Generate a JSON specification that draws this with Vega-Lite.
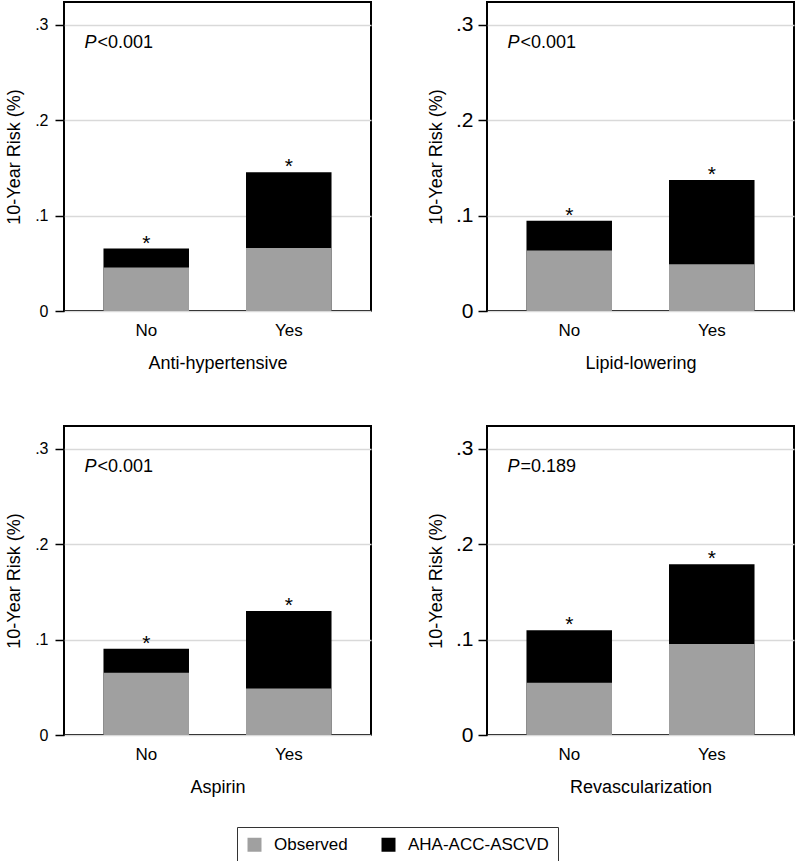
{
  "$schema": "https://vega.github.io/schema/vega-lite/v6.json",
  "padding": {"left": 4, "top": 1, "right": 0, "bottom": 0},
  "background": "white",
  "datasets": {
    "bars": [
      {"panel": "Anti-hypertensive", "group": "No", "series": "AHA-ACC-ASCVD", "value": 0.0655, "pval": "<0.001"},
      {"panel": "Anti-hypertensive", "group": "Yes", "series": "AHA-ACC-ASCVD", "value": 0.1455, "pval": "<0.001"},
      {"panel": "Anti-hypertensive", "group": "No", "series": "Observed", "value": 0.0455, "pval": "<0.001"},
      {"panel": "Anti-hypertensive", "group": "Yes", "series": "Observed", "value": 0.066, "pval": "<0.001"},
      {"panel": "Lipid-lowering", "group": "No", "series": "AHA-ACC-ASCVD", "value": 0.0946, "pval": "<0.001"},
      {"panel": "Lipid-lowering", "group": "Yes", "series": "AHA-ACC-ASCVD", "value": 0.1374, "pval": "<0.001"},
      {"panel": "Lipid-lowering", "group": "No", "series": "Observed", "value": 0.0634, "pval": "<0.001"},
      {"panel": "Lipid-lowering", "group": "Yes", "series": "Observed", "value": 0.049, "pval": "<0.001"},
      {"panel": "Aspirin", "group": "No", "series": "AHA-ACC-ASCVD", "value": 0.0905, "pval": "<0.001"},
      {"panel": "Aspirin", "group": "Yes", "series": "AHA-ACC-ASCVD", "value": 0.130, "pval": "<0.001"},
      {"panel": "Aspirin", "group": "No", "series": "Observed", "value": 0.0653, "pval": "<0.001"},
      {"panel": "Aspirin", "group": "Yes", "series": "Observed", "value": 0.0488, "pval": "<0.001"},
      {"panel": "Revascularization", "group": "No", "series": "AHA-ACC-ASCVD", "value": 0.1098, "pval": "=0.189"},
      {"panel": "Revascularization", "group": "Yes", "series": "AHA-ACC-ASCVD", "value": 0.179, "pval": "=0.189"},
      {"panel": "Revascularization", "group": "No", "series": "Observed", "value": 0.0547, "pval": "=0.189"},
      {"panel": "Revascularization", "group": "Yes", "series": "Observed", "value": 0.0955, "pval": "=0.189"}
    ]
  },
  "data": {"name": "bars"},
  "columns": 2,
  "spacing": {"column": 54, "row": 52},
  "concat": [
    {
      "width": 307, "height": 309,
      "transform": [{"filter": "datum.panel == 'Anti-hypertensive'"}],
      "encoding": {"x": {"field": "group", "type": "nominal", "title": "Anti-hypertensive", "scale": {"paddingInner": 0.4, "paddingOuter": 0.277}}},
      "layer": [
        {"mark": {"type": "bar"}, "encoding": {
          "y": {"field": "value", "type": "quantitative", "stack": null, "scale": {"domain": [0, 0.324], "nice": false},
                "axis": {"values": [0, 0.1, 0.2, 0.3], "labelFontSize": 16, "labelPadding": 7, "titlePadding": 11}, "title": "10-Year Risk (%)"},
          "color": {"field": "series", "type": "nominal", "scale": {"domain": ["Observed", "AHA-ACC-ASCVD"], "range": ["#a0a0a0", "#000000"]}, "legend": {"title": null}},
          "order": {"field": "value", "type": "quantitative", "sort": "descending"}}},
        {"transform": [{"filter": "datum.series == 'AHA-ACC-ASCVD'"}], "mark": {"type": "text", "text": "*", "fontSize": 21, "baseline": "alphabetic", "dy": 1, "font": "Liberation Sans", "color": "black"},
          "encoding": {"y": {"field": "value", "type": "quantitative"}}},
        {"transform": [{"filter": "datum.series == 'AHA-ACC-ASCVD' && datum.group == 'No'"}], "mark": {"type": "text", "text": "P", "fontStyle": "italic", "fontSize": 18, "align": "left", "baseline": "middle", "dx": -19, "font": "Liberation Sans", "color": "black"},
          "encoding": {"x": {"field": "group", "type": "nominal", "bandPosition": 0}, "y": {"datum": 0.2815, "type": "quantitative"}}},
        {"transform": [{"filter": "datum.series == 'AHA-ACC-ASCVD' && datum.group == 'No'"}], "mark": {"type": "text", "fontSize": 18, "align": "left", "baseline": "middle", "dx": -6, "font": "Liberation Sans", "color": "black"},
          "encoding": {"x": {"field": "group", "type": "nominal", "bandPosition": 0}, "y": {"datum": 0.2815, "type": "quantitative"}, "text": {"field": "pval"}}}
      ]
    },
    {
      "width": 307, "height": 309,
      "transform": [{"filter": "datum.panel == 'Lipid-lowering'"}],
      "encoding": {"x": {"field": "group", "type": "nominal", "title": "Lipid-lowering", "scale": {"paddingInner": 0.4, "paddingOuter": 0.277}}},
      "layer": [
        {"mark": {"type": "bar"}, "encoding": {
          "y": {"field": "value", "type": "quantitative", "stack": null, "scale": {"domain": [0, 0.324], "nice": false},
                "axis": {"values": [0, 0.1, 0.2, 0.3], "labelFontSize": 21, "labelPadding": 5, "titlePadding": 10}, "title": "10-Year Risk (%)"},
          "color": {"field": "series", "type": "nominal", "scale": {"domain": ["Observed", "AHA-ACC-ASCVD"], "range": ["#a0a0a0", "#000000"]}, "legend": {"title": null}},
          "order": {"field": "value", "type": "quantitative", "sort": "descending"}}},
        {"transform": [{"filter": "datum.series == 'AHA-ACC-ASCVD'"}], "mark": {"type": "text", "text": "*", "fontSize": 21, "baseline": "alphabetic", "dy": 1, "font": "Liberation Sans", "color": "black"},
          "encoding": {"y": {"field": "value", "type": "quantitative"}}},
        {"transform": [{"filter": "datum.series == 'AHA-ACC-ASCVD' && datum.group == 'No'"}], "mark": {"type": "text", "text": "P", "fontStyle": "italic", "fontSize": 18, "align": "left", "baseline": "middle", "dx": -19, "font": "Liberation Sans", "color": "black"},
          "encoding": {"x": {"field": "group", "type": "nominal", "bandPosition": 0}, "y": {"datum": 0.2815, "type": "quantitative"}}},
        {"transform": [{"filter": "datum.series == 'AHA-ACC-ASCVD' && datum.group == 'No'"}], "mark": {"type": "text", "fontSize": 18, "align": "left", "baseline": "middle", "dx": -6, "font": "Liberation Sans", "color": "black"},
          "encoding": {"x": {"field": "group", "type": "nominal", "bandPosition": 0}, "y": {"datum": 0.2815, "type": "quantitative"}, "text": {"field": "pval"}}}
      ]
    },
    {
      "width": 307, "height": 309,
      "transform": [{"filter": "datum.panel == 'Aspirin'"}],
      "encoding": {"x": {"field": "group", "type": "nominal", "title": "Aspirin", "scale": {"paddingInner": 0.4, "paddingOuter": 0.277}}},
      "layer": [
        {"mark": {"type": "bar"}, "encoding": {
          "y": {"field": "value", "type": "quantitative", "stack": null, "scale": {"domain": [0, 0.324], "nice": false},
                "axis": {"values": [0, 0.1, 0.2, 0.3], "labelFontSize": 16, "labelPadding": 7, "titlePadding": 11}, "title": "10-Year Risk (%)"},
          "color": {"field": "series", "type": "nominal", "scale": {"domain": ["Observed", "AHA-ACC-ASCVD"], "range": ["#a0a0a0", "#000000"]}, "legend": {"title": null}},
          "order": {"field": "value", "type": "quantitative", "sort": "descending"}}},
        {"transform": [{"filter": "datum.series == 'AHA-ACC-ASCVD'"}], "mark": {"type": "text", "text": "*", "fontSize": 21, "baseline": "alphabetic", "dy": 1, "font": "Liberation Sans", "color": "black"},
          "encoding": {"y": {"field": "value", "type": "quantitative"}}},
        {"transform": [{"filter": "datum.series == 'AHA-ACC-ASCVD' && datum.group == 'No'"}], "mark": {"type": "text", "text": "P", "fontStyle": "italic", "fontSize": 18, "align": "left", "baseline": "middle", "dx": -19, "font": "Liberation Sans", "color": "black"},
          "encoding": {"x": {"field": "group", "type": "nominal", "bandPosition": 0}, "y": {"datum": 0.2815, "type": "quantitative"}}},
        {"transform": [{"filter": "datum.series == 'AHA-ACC-ASCVD' && datum.group == 'No'"}], "mark": {"type": "text", "fontSize": 18, "align": "left", "baseline": "middle", "dx": -6, "font": "Liberation Sans", "color": "black"},
          "encoding": {"x": {"field": "group", "type": "nominal", "bandPosition": 0}, "y": {"datum": 0.2815, "type": "quantitative"}, "text": {"field": "pval"}}}
      ]
    },
    {
      "width": 307, "height": 309,
      "transform": [{"filter": "datum.panel == 'Revascularization'"}],
      "encoding": {"x": {"field": "group", "type": "nominal", "title": "Revascularization", "scale": {"paddingInner": 0.4, "paddingOuter": 0.277}}},
      "layer": [
        {"mark": {"type": "bar"}, "encoding": {
          "y": {"field": "value", "type": "quantitative", "stack": null, "scale": {"domain": [0, 0.324], "nice": false},
                "axis": {"values": [0, 0.1, 0.2, 0.3], "labelFontSize": 21, "labelPadding": 5, "titlePadding": 10}, "title": "10-Year Risk (%)"},
          "color": {"field": "series", "type": "nominal", "scale": {"domain": ["Observed", "AHA-ACC-ASCVD"], "range": ["#a0a0a0", "#000000"]}, "legend": {"title": null}},
          "order": {"field": "value", "type": "quantitative", "sort": "descending"}}},
        {"transform": [{"filter": "datum.series == 'AHA-ACC-ASCVD'"}], "mark": {"type": "text", "text": "*", "fontSize": 21, "baseline": "alphabetic", "dy": 1, "font": "Liberation Sans", "color": "black"},
          "encoding": {"y": {"field": "value", "type": "quantitative"}}},
        {"transform": [{"filter": "datum.series == 'AHA-ACC-ASCVD' && datum.group == 'No'"}], "mark": {"type": "text", "text": "P", "fontStyle": "italic", "fontSize": 18, "align": "left", "baseline": "middle", "dx": -19, "font": "Liberation Sans", "color": "black"},
          "encoding": {"x": {"field": "group", "type": "nominal", "bandPosition": 0}, "y": {"datum": 0.2815, "type": "quantitative"}}},
        {"transform": [{"filter": "datum.series == 'AHA-ACC-ASCVD' && datum.group == 'No'"}], "mark": {"type": "text", "fontSize": 18, "align": "left", "baseline": "middle", "dx": -6, "font": "Liberation Sans", "color": "black"},
          "encoding": {"x": {"field": "group", "type": "nominal", "bandPosition": 0}, "y": {"datum": 0.2815, "type": "quantitative"}, "text": {"field": "pval"}}}
      ]
    }
  ],
  "resolve": {"scale": {"color": "shared"}},
  "config": {
    "font": "Liberation Sans",
    "view": {"stroke": "black", "strokeWidth": 2},
    "bar": {"stroke": null},
    "axis": {"labelFont": "Liberation Sans", "titleFont": "Liberation Sans", "labelColor": "black", "titleColor": "black", "titleFontWeight": "normal", "titleFontSize": 18},
    "axisY": {"labelExpr": "datum.value == 0 ? '0' : replace(format(datum.value, '.1f'), '0.', '.')", "grid": true, "gridColor": "#d9d9d9", "gridWidth": 1.5, "domain": false, "tickColor": "black", "tickSize": 9, "tickWidth": 1.5},
    "axisX": {"labelAngle": 0, "ticks": false, "domain": false, "grid": false, "labelFontSize": 17, "labelPadding": 11, "titlePadding": 16},
    "legend": {"orient": "none", "legendX": 173, "legendY": 825, "direction": "horizontal", "symbolType": "square", "symbolSize": 196, "symbolStrokeWidth": 0, "symbolOpacity": 1, "labelFontSize": 17, "labelFont": "Liberation Sans", "labelColor": "black", "labelOffset": 11, "columnPadding": 32, "padding": 9, "strokeColor": "#333333", "strokeWidth": 1}
  }
}
